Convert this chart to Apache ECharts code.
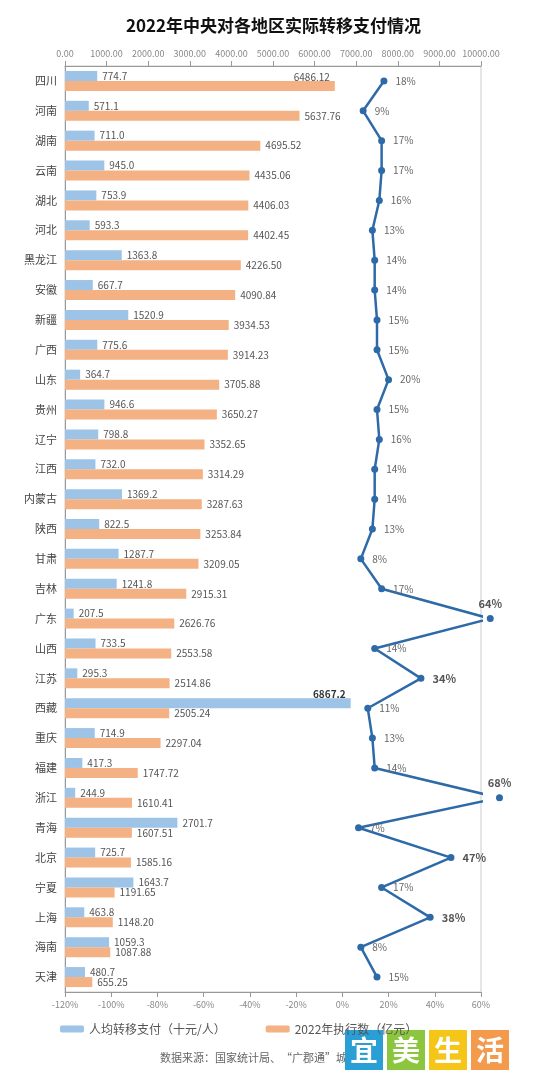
<!DOCTYPE html>
<html>
<head>
<meta charset="UTF-8">
<script src="https://cdn.jsdelivr.net/npm/echarts@6/dist/echarts.min.js"></script>
<style>body{margin:0;background:#fff}</style>
</head>
<body>
<div id="main" style="width:547px;height:1080px;"></div>
<script>
var provinces = ['四川','河南','湖南','云南','湖北','河北','黑龙江','安徽','新疆','广西','山东','贵州','辽宁','江西','内蒙古','陕西','甘肃','吉林','广东','山西','江苏','西藏','重庆','福建','浙江','青海','北京','宁夏','上海','海南','天津'];
var perCapita = [774.7,571.1,711.0,945.0,753.9,593.3,1363.8,667.7,1520.9,775.6,364.7,946.6,798.8,732.0,1369.2,822.5,1287.7,1241.8,207.5,733.5,295.3,6867.2,714.9,417.3,244.9,2701.7,725.7,1643.7,463.8,1059.3,480.7];
var executed = [6486.12,5637.76,4695.52,4435.06,4406.03,4402.45,4226.50,4090.84,3934.53,3914.23,3705.88,3650.27,3352.65,3314.29,3287.63,3253.84,3209.05,2915.31,2626.76,2553.58,2514.86,2505.24,2297.04,1747.72,1610.41,1607.51,1585.16,1191.65,1148.20,1087.88,655.25];
var ratio = [18,9,17,17,16,13,14,14,15,15,20,15,16,14,14,13,8,17,64,14,34,11,13,14,68,7,47,17,38,8,15];
var bigRatio = [64,34,68,47,38];

var font = 'Noto Sans CJK SC';
var myChart = echarts.init(document.getElementById('main'));

var blueData = perCapita.map(function (v, i) {
    if (provinces[i] === '西藏') {
        return {value: v, label: {fontWeight: 'bold', color: '#333', position: 'insideTopRight', offset: [0, -14]}};
    }
    return v;
});
var orangeData = executed.map(function (v, i) {
    if (i === 0) return {value: v, label: {position: 'insideTopRight', offset: [0, -14]}};
    return v;
});
var lineData = ratio.map(function (v, i) {
    if (bigRatio.indexOf(v) < 0) return {value: [v, provinces[i]]};
    var top = (v === 64 || v === 68);
    return {value: [v, provinces[i]], label: {fontWeight: 'bold', fontSize: 11, color: '#555', position: top ? 'top' : 'right', distance: top ? 6 : 8}};
});

var option = {
    textStyle: {fontFamily: font},
    title: {
        text: '2022年中央对各地区实际转移支付情况',
        left: 'center', top: 12,
        textStyle: {fontSize: 17, fontWeight: 'bold', color: '#111', fontFamily: font}
    },
    legend: {
        bottom: 40, left: 55, itemGap: 40, itemWidth: 24, itemHeight: 7,
        data: ['人均转移支付（十元/人）', '2022年执行数（亿元）'],
        textStyle: {color: '#555', fontSize: 12}
    },
    graphic: [
        {type: 'text', left: 160, top: 1052, style: {text: '数据来源：国家统计局、“广郡通”城市', fill: '#666', font: '11px "Noto Sans CJK SC"'}},
        {type: 'group', left: 345, top: 1030, children: [
            {type: 'rect', shape: {x: 0, y: 0, width: 38, height: 40}, style: {fill: '#2a9fd6'}},
            {type: 'text', style: {text: '宜', x: 19, y: 20, align: 'center', verticalAlign: 'middle', fill: '#fff', font: 'bold 28px "Noto Sans CJK SC"'}},
            {type: 'rect', shape: {x: 42, y: 0, width: 38, height: 40}, style: {fill: '#8cc63f'}},
            {type: 'text', style: {text: '美', x: 61, y: 20, align: 'center', verticalAlign: 'middle', fill: '#fff', font: 'bold 28px "Noto Sans CJK SC"'}},
            {type: 'rect', shape: {x: 84, y: 0, width: 38, height: 40}, style: {fill: '#f5c518'}},
            {type: 'text', style: {text: '生', x: 103, y: 20, align: 'center', verticalAlign: 'middle', fill: '#fff', font: 'bold 28px "Noto Sans CJK SC"'}},
            {type: 'rect', shape: {x: 126, y: 0, width: 38, height: 40}, style: {fill: '#f39a4c'}},
            {type: 'text', style: {text: '活', x: 145, y: 20, align: 'center', verticalAlign: 'middle', fill: '#fff', font: 'bold 28px "Noto Sans CJK SC"'}}
        ]}
    ],
    grid: {left: 65, right: 66, top: 66, bottom: 88, show: true, borderColor: '#ccc', borderWidth: 1},
    xAxis: [{
        type: 'value', position: 'top', min: 0, max: 10000, interval: 1000,
        axisLine: {show: true, lineStyle: {color: '#999'}},
        axisTick: {show: true},
        splitLine: {show: false},
        axisLabel: {color: '#888', fontSize: 9, formatter: function (v) { return v.toFixed(2); }}
    }, {
        type: 'value', position: 'bottom', min: -120, max: 60, interval: 20,
        axisLine: {show: true, lineStyle: {color: '#999'}},
        axisTick: {show: true},
        splitLine: {show: false},
        axisLabel: {color: '#888', fontSize: 9, formatter: '{value}%'}
    }],
    yAxis: {
        type: 'category', inverse: true, data: provinces,
        axisLine: {show: true, lineStyle: {color: '#999'}},
        axisTick: {show: false},
        axisLabel: {color: '#444', fontSize: 11}
    },
    series: [{
        name: '人均转移支付（十元/人）', type: 'bar', xAxisIndex: 0,
        barWidth: 10, barGap: '0%', barCategoryGap: '30%',
        itemStyle: {color: '#9dc3e6'},
        label: {show: true, position: 'right', color: '#555', fontSize: 10, formatter: function (p) { return p.value.toFixed(1); }},
        data: blueData
    }, {
        name: '2022年执行数（亿元）', type: 'bar', xAxisIndex: 0,
        barWidth: 10,
        itemStyle: {color: '#f4b183'},
        label: {show: true, position: 'right', color: '#555', fontSize: 10, formatter: function (p) { return p.value.toFixed(2); }},
        data: orangeData
    }, {
        name: 'ratio', type: 'line', xAxisIndex: 1, clip: false,
        symbol: 'circle', symbolSize: 7,
        lineStyle: {color: '#2e6aa8', width: 2.5},
        itemStyle: {color: '#2e6aa8'},
        label: {show: true, position: 'right', distance: 8, color: '#666', fontSize: 10, formatter: function (p) { return p.value[0] + '%'; }},
        data: lineData,
        z: 5
    }]
};
myChart.setOption(option);
</script>
</body>
</html>
